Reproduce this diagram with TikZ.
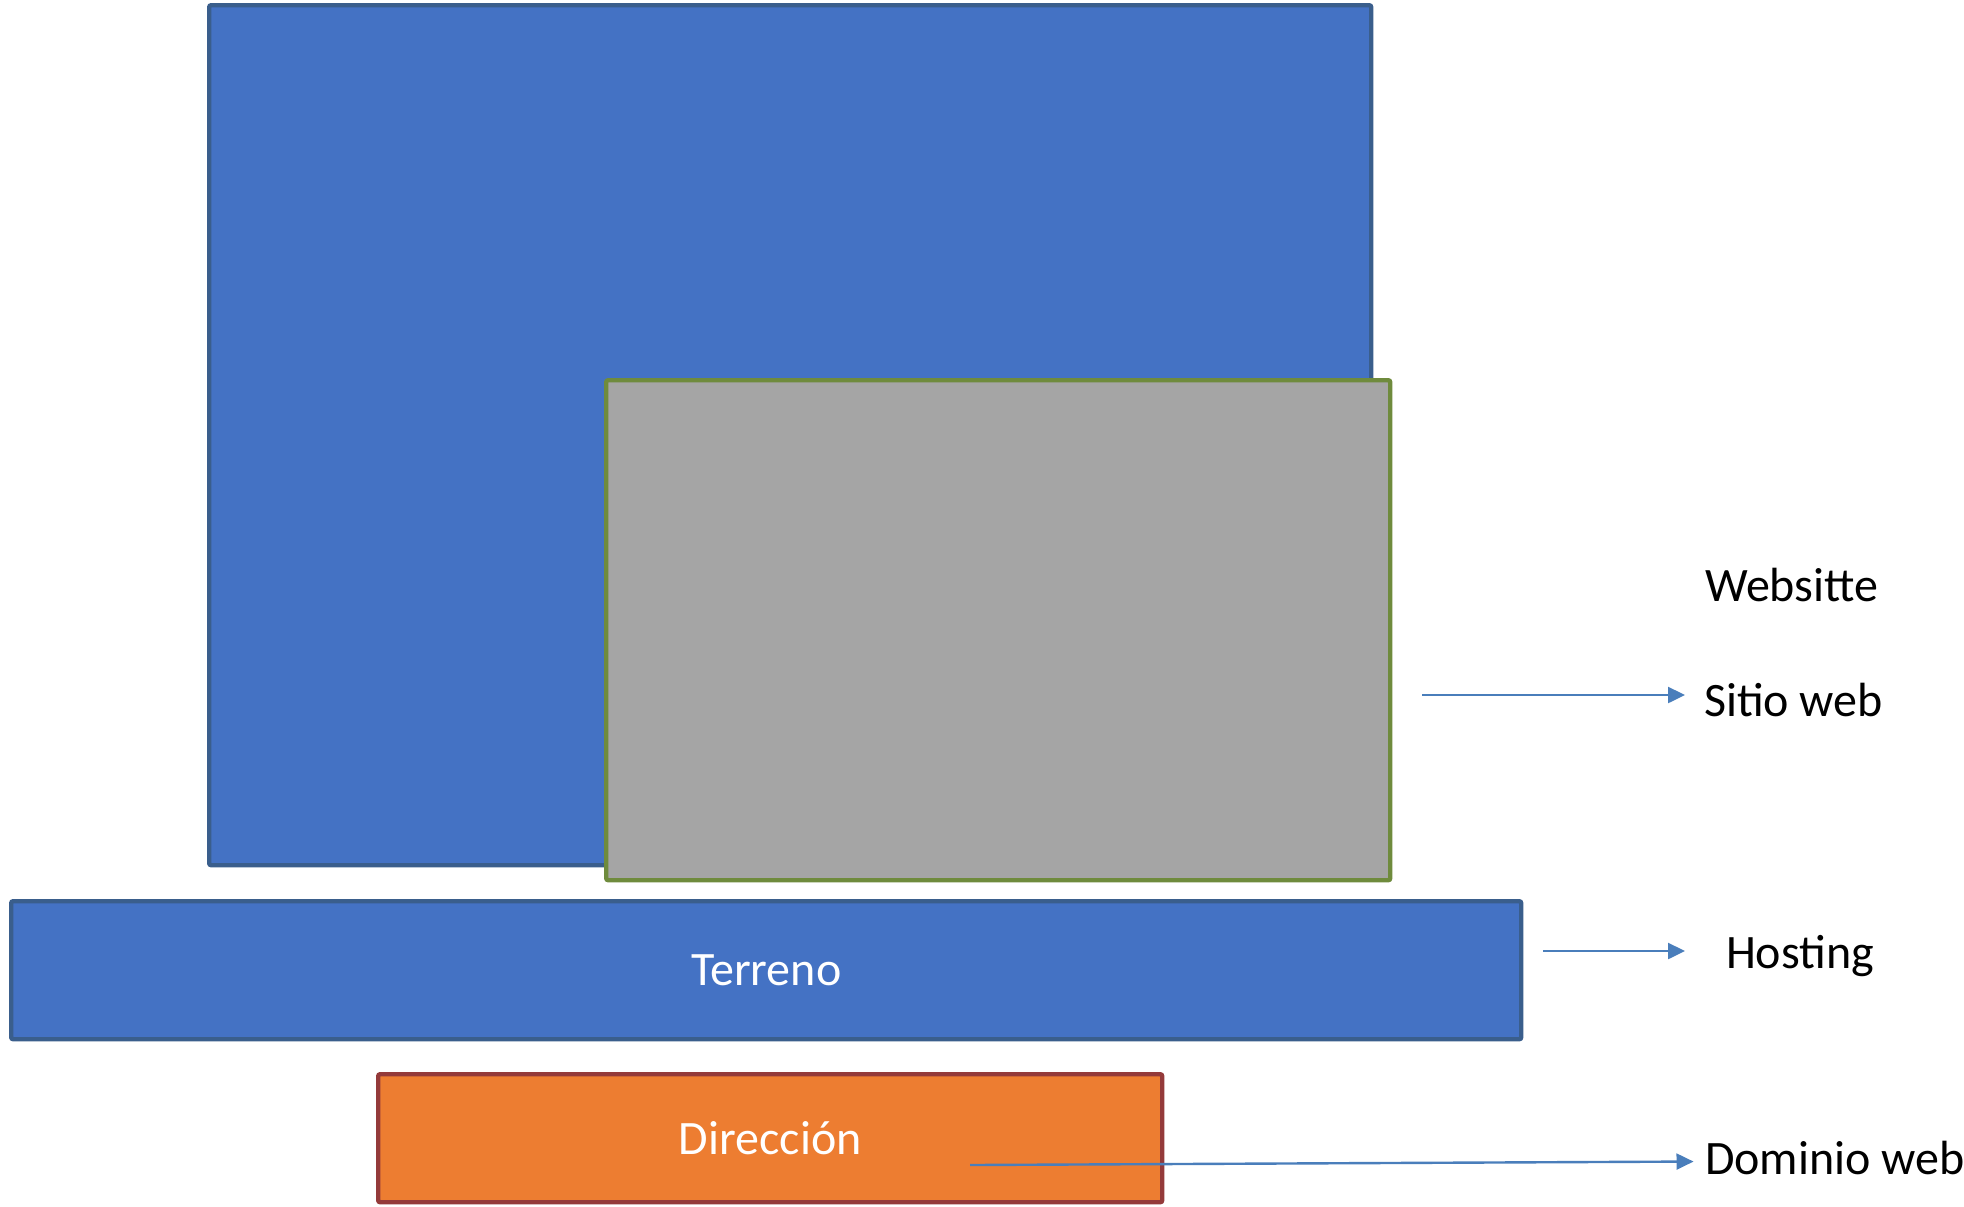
\documentclass[tikz,border=0pt]{standalone}
\usepackage{fontspec}
\setmainfont{Carlito}
\usetikzlibrary{arrows.meta,positioning}
\definecolor{boxblue}{HTML}{4472C4}
\definecolor{boxblueline}{HTML}{3A5E8C}
\definecolor{boxgray}{HTML}{A5A5A5}
\definecolor{boxgrayline}{HTML}{6F8B3D}
\definecolor{boxorange}{HTML}{ED7D31}
\definecolor{boxorangeline}{HTML}{943A3A}
\definecolor{linkblue}{HTML}{4A7EBB}

\begin{document}
\begin{tikzpicture}[x=0.5pt,y=-0.5pt,
    layer box/.style={draw,line width=2.2pt,inner sep=0pt,anchor=north west,
                      rounded corners=1pt,text=white,font=\fontsize{24}{28}\selectfont},
    side label/.style={font=\fontsize{24}{28}\selectfont,anchor=base west},
    link/.style={draw=linkblue,line width=1.2pt,-{Triangle[length=8.5pt,width=8pt]}}]
\useasboundingbox (0,0) rectangle (1964,1206);

% stacked layers
\node[layer box,fill=boxblue,draw=boxblueline,minimum width=581pt,minimum height=430pt] (Website) at (207,3) {};
\node[layer box,fill=boxgray,draw=boxgrayline,minimum width=392pt,minimum height=250pt] (Site) at (604,378) {};
\node[layer box,fill=boxblue,draw=boxblueline,minimum width=755pt,minimum height=69pt] (Ground) at (9,899) {Terreno};
\node[layer box,fill=boxorange,draw=boxorangeline,minimum width=392pt,minimum height=64pt] (Address) at (376,1072) {Dirección};

% labels on the right
\node[side label] (WebsiteLabel) at (1698,601) {Websitte};
\node[side label] (SiteLabel) at (1697,716) {Sitio web};
\node[side label] (HostLabel) at (1719,968) {Hosting};
\node[side label] (DomainLabel) at (1698,1174) {Dominio web};

\coordinate (SiteStart) at (1422,695);
\coordinate (HostStart) at (1543,951);
\coordinate (DomainStart) at (970,1165);

\draw[link,shorten >=6pt] (SiteStart) -- (SiteStart -| SiteLabel.west);
\draw[link,shorten >=17pt] (HostStart) -- (HostStart -| HostLabel.west);
\draw[link,shorten >=2.25pt] (DomainStart) -- ([yshift=-2pt]DomainLabel.west);
\end{tikzpicture}
\end{document}
